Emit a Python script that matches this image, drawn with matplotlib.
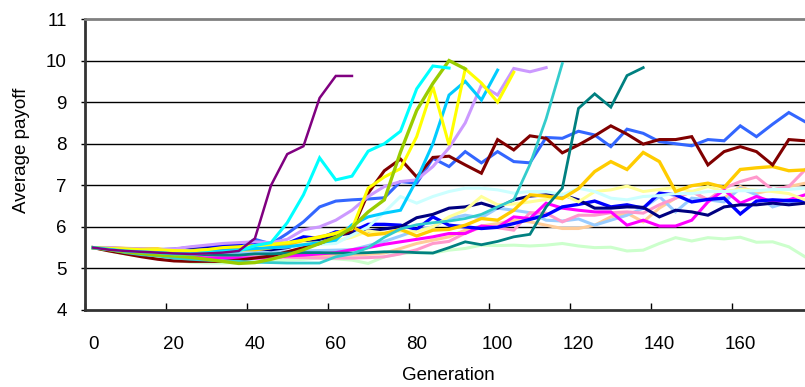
import matplotlib
matplotlib.use("Agg")
import matplotlib.pyplot as plt
import numpy as np

plt.rcParams['font.family'] = ['Liberation Sans', 'DejaVu Sans']

# generations sampled every 4 steps
gens = np.arange(0, 177, 4)

purple = [5.5, 5.45, 5.42, 5.4, 5.38, 5.36, 5.35, 5.36, 5.38, 5.42, 5.72, 7.0, 7.75, 7.94, 9.1, 9.63, 9.63]
cyan = [5.5, 5.46, 5.42, 5.4, 5.38, 5.35, 5.35, 5.37, 5.4, 5.42, 5.55, 5.62, 6.1, 6.77, 7.66, 7.13, 7.22,
        7.82, 8.0, 8.3, 9.32, 9.87, 9.82]
lime = [5.5, 5.45, 5.4, 5.36, 5.32, 5.3, 5.27, 5.22, 5.17, 5.12, 5.14, 5.22, 5.32, 5.45, 5.6, 5.75, 5.98,
        6.36, 6.65, 7.8, 8.8, 9.45, 10.0, 9.8]
yellow = [5.5, 5.48, 5.47, 5.45, 5.45, 5.43, 5.42, 5.45, 5.5, 5.52, 5.55, 5.58, 5.62, 5.68, 5.75, 5.85,
          5.95, 6.93, 7.2, 7.4, 8.17, 9.37, 7.97, 9.8, 9.46, 9.0, 9.72]
skyblue = [5.5, 5.47, 5.44, 5.42, 5.4, 5.38, 5.38, 5.4, 5.42, 5.45, 5.48, 5.5, 5.52, 5.57, 5.62, 5.68,
           6.05, 6.24, 6.33, 6.4, 7.13, 8.0, 9.17, 9.5, 9.05, 9.77]
lavender = [5.5, 5.5, 5.48, 5.47, 5.45, 5.47, 5.52, 5.56, 5.6, 5.62, 5.64, 5.62, 5.7, 5.93, 6.0, 6.16,
            6.4, 6.73, 6.97, 7.09, 7.13, 7.45, 7.9, 8.5, 9.41, 9.17, 9.81, 9.73, 9.83]
turquoise = [5.5, 5.45, 5.38, 5.33, 5.3, 5.25, 5.22, 5.2, 5.18, 5.17, 5.15, 5.14, 5.13, 5.13, 5.13, 5.28,
             5.35, 5.5, 5.75, 5.95, 6.05, 6.1, 6.14, 6.2, 6.3, 6.48, 6.65, 7.5, 8.6, 9.93]
teal = [5.5, 5.45, 5.4, 5.4, 5.38, 5.35, 5.35, 5.33, 5.32, 5.32, 5.35, 5.35, 5.37, 5.38, 5.38, 5.37,
        5.37, 5.38, 5.4, 5.4, 5.38, 5.37, 5.5, 5.64, 5.57, 5.65, 5.76, 5.82, 6.48, 6.93, 8.85, 9.2,
        8.88, 9.64, 9.83]
maroon = [5.5, 5.42, 5.35, 5.28, 5.22, 5.18, 5.17, 5.17, 5.17, 5.2, 5.25, 5.3, 5.4, 5.5, 5.6, 5.75,
          5.92, 6.81, 7.35, 7.63, 7.2, 7.67, 7.7, 7.49, 7.29, 8.1, 7.85, 8.19, 8.13, 7.78, 7.97, 8.19,
          8.43, 8.23, 7.99, 8.1, 8.1, 8.17, 7.49, 7.81, 7.93, 7.81, 7.49, 8.1, 8.07]
royalblue = [5.5, 5.46, 5.43, 5.42, 5.4, 5.4, 5.42, 5.43, 5.45, 5.48, 5.7, 5.59, 5.84, 6.12, 6.48, 6.62,
             6.65, 6.67, 6.7, 7.09, 7.05, 7.65, 7.45, 7.81, 7.54, 7.81, 7.57, 7.54, 8.15, 8.13, 8.3,
             8.21, 7.93, 8.35, 8.25, 8.05, 8.0, 7.95, 8.1, 8.07, 8.43, 8.17, 8.47, 8.75, 8.53]
gold = [5.5, 5.5, 5.48, 5.47, 5.47, 5.42, 5.4, 5.42, 5.43, 5.45, 5.45, 5.5, 5.57, 5.68, 5.76, 5.84,
        6.0, 5.8, 5.84, 5.94, 5.78, 5.92, 5.94, 6.04, 6.2, 6.16, 6.4, 6.77, 6.74, 6.68, 6.92, 7.33,
        7.57, 7.38, 7.79, 7.57, 6.85, 6.99, 7.05, 6.95, 7.38, 7.42, 7.45, 7.35, 7.37]
lightcyan = [5.5, 5.47, 5.44, 5.42, 5.4, 5.38, 5.38, 5.4, 5.42, 5.45, 5.47, 5.5, 5.52, 5.55, 5.58, 5.6,
             5.8, 6.0, 6.35, 6.73, 6.57, 6.73, 6.85, 6.93, 6.93, 6.89, 6.81, 6.85, 6.85, 6.77, 6.93,
             6.85, 6.69, 6.65, 6.73, 6.75, 6.8, 6.8, 6.85, 6.85, 6.87, 6.87, 6.9, 6.9, 6.93]
lightyellow = [5.5, 5.48, 5.46, 5.45, 5.44, 5.43, 5.43, 5.45, 5.47, 5.5, 5.52, 5.55, 5.57, 5.6, 5.62, 5.66,
               5.75, 5.9, 5.85, 5.9, 5.88, 6.0, 6.24, 6.4, 6.73, 6.53, 6.55, 6.6, 6.66, 6.79, 6.6,
               6.85, 6.89, 6.98, 6.85, 6.9, 6.95, 6.85, 6.97, 6.85, 6.9, 6.88, 6.85, 6.8, 6.65]
navy = [5.5, 5.46, 5.43, 5.42, 5.42, 5.43, 5.45, 5.47, 5.48, 5.5, 5.48, 5.45, 5.5, 5.6, 5.7, 5.8,
        5.85, 5.9, 5.95, 6.0, 6.22, 6.3, 6.45, 6.48, 6.57, 6.45, 6.65, 6.74, 6.77, 6.77, 6.65, 6.45,
        6.45, 6.48, 6.47, 6.24, 6.4, 6.36, 6.28, 6.48, 6.53, 6.53, 6.57, 6.53, 6.57]
blue = [5.5, 5.48, 5.46, 5.45, 5.45, 5.46, 5.5, 5.53, 5.55, 5.57, 5.6, 5.57, 5.6, 5.76, 5.72, 5.88,
        5.88, 6.06, 6.06, 6.04, 5.94, 6.24, 6.04, 6.0, 5.96, 5.99, 6.08, 6.18, 6.28, 6.48, 6.54, 6.62,
        6.48, 6.53, 6.45, 6.81, 6.77, 6.6, 6.66, 6.69, 6.31, 6.62, 6.65, 6.63, 6.63]
magenta = [5.5, 5.45, 5.4, 5.35, 5.32, 5.3, 5.28, 5.25, 5.25, 5.25, 5.25, 5.25, 5.3, 5.32, 5.35, 5.38,
           5.45, 5.5, 5.58, 5.64, 5.7, 5.76, 5.84, 5.84, 6.02, 5.99, 6.24, 6.2, 6.57, 6.45, 6.4, 6.36,
           6.36, 6.04, 6.16, 6.02, 6.02, 6.16, 6.6, 6.89, 6.57, 6.73, 6.6, 6.65, 6.77]
pink = [5.5, 5.45, 5.4, 5.37, 5.35, 5.33, 5.32, 5.3, 5.3, 5.3, 5.28, 5.28, 5.27, 5.26, 5.25, 5.25,
        5.25, 5.26, 5.28, 5.35, 5.45, 5.6, 5.65, 5.85, 5.99, 5.98, 5.92, 6.34, 6.33, 6.12, 6.28, 6.28,
        6.34, 6.36, 6.33, 6.53, 6.69, 6.85, 6.65, 6.93, 7.09, 7.2, 6.89, 6.97, 7.37]
lightblue = [5.5, 5.47, 5.44, 5.42, 5.4, 5.38, 5.37, 5.36, 5.36, 5.37, 5.38, 5.4, 5.4, 5.42, 5.43, 5.44,
             5.45, 5.55, 5.65, 5.78, 5.92, 6.0, 6.2, 6.28, 6.22, 6.45, 6.4, 6.34, 6.16, 6.14, 6.19,
             6.04, 6.16, 6.28, 6.45, 6.73, 6.36, 6.69, 6.65, 6.6, 6.93, 6.77, 6.48, 6.6, 6.65]
peach = [5.5, 5.45, 5.4, 5.37, 5.34, 5.32, 5.3, 5.28, 5.27, 5.27, 5.27, 5.28, 5.28, 5.3, 5.3, 5.31,
         5.32, 5.34, 5.37, 5.48, 5.6, 5.68, 5.76, 5.92, 6.02, 6.08, 6.16, 6.12, 6.04, 5.96, 5.96, 6.04,
         6.24, 6.33, 6.12, 6.45, 6.69, 6.85, 6.65, 6.69, 6.97, 6.81, 6.89, 6.97, 7.05]
lightgreen = [5.5, 5.42, 5.35, 5.3, 5.25, 5.2, 5.15, 5.13, 5.13, 5.14, 5.15, 5.18, 5.2, 5.22, 5.25, 5.23,
              5.2, 5.12, 5.28, 5.36, 5.38, 5.37, 5.44, 5.48, 5.56, 5.55, 5.56, 5.54, 5.56, 5.6, 5.54,
              5.5, 5.51, 5.42, 5.44, 5.6, 5.74, 5.66, 5.74, 5.71, 5.75, 5.63, 5.64, 5.52, 5.28]

series = [
    (lightgreen, '#CCFFCC', 2.2),
    (peach, '#FFCC99', 2.2),
    (lightblue, '#99CCFF', 2.2),
    (pink, '#FF99CC', 2.2),
    (magenta, '#FF00FF', 2.2),
    (blue, '#0000FF', 2.4),
    (navy, '#000080', 2.2),
    (lightyellow, '#FFFF99', 2.2),
    (lightcyan, '#CCFFFF', 2.2),
    (gold, '#FFCC00', 2.4),
    (royalblue, '#3366FF', 2.2),
    (maroon, '#800000', 2.2),
    (teal, '#008080', 2.0),
    (turquoise, '#33CCCC', 2.0),
    (lavender, '#CC99FF', 2.2),
    (skyblue, '#00CCFF', 2.2),
    (yellow, '#FFFF00', 2.2),
    (lime, '#99CC00', 2.4),
    (cyan, '#00FFFF', 2.2),
    (purple, '#800080', 1.8),
]

fig = plt.figure(figsize=(8.05, 3.87), dpi=100)
ax = fig.add_axes([85 / 805, 1 - 310 / 387, 1 - 85 / 805, (310 - 19) / 387])

for vals, col, lw in series:
    ax.plot(gens[:len(vals)], vals, color=col, lw=lw, solid_joinstyle='miter')

ax.set_xlim(-2, 176)
ax.set_ylim(4, 11)

# horizontal gridlines
for v in range(5, 11):
    ax.axhline(v, color='black', lw=1.0, zorder=0)

ax.spines['right'].set_visible(False)
ax.spines['top'].set_color('#808080')
ax.spines['top'].set_linewidth(2)
ax.spines['left'].set_color('#333333')
ax.spines['left'].set_linewidth(2)
ax.spines['bottom'].set_color('#333333')
ax.spines['bottom'].set_linewidth(2)

ax.set_yticks(range(4, 12))
ax.tick_params(axis='y', direction='out', length=3, width=1, pad=10, labelsize=13.5)

# ticks sit between categories, labels on the categories
ax.set_xticks(np.arange(-2, 176, 20))
ax.set_xticklabels([])
ax.set_xticks(np.arange(0, 176, 20), minor=True)
ax.set_xticklabels([str(v) for v in range(0, 176, 20)], minor=True)
ax.tick_params(axis='x', which='major', direction='in', length=5, width=1)
ax.tick_params(axis='x', which='minor', length=0, pad=19, labelsize=13.5)

fig.text(22 / 805, 1 - 150 / 387, 'Average payoff', rotation=90, ha='center', va='center', fontsize=13.5)
fig.text(448 / 805, 1 - 375 / 387, 'Generation', ha='center', va='center', fontsize=13.5)

fig.savefig('out.png', dpi=100)
